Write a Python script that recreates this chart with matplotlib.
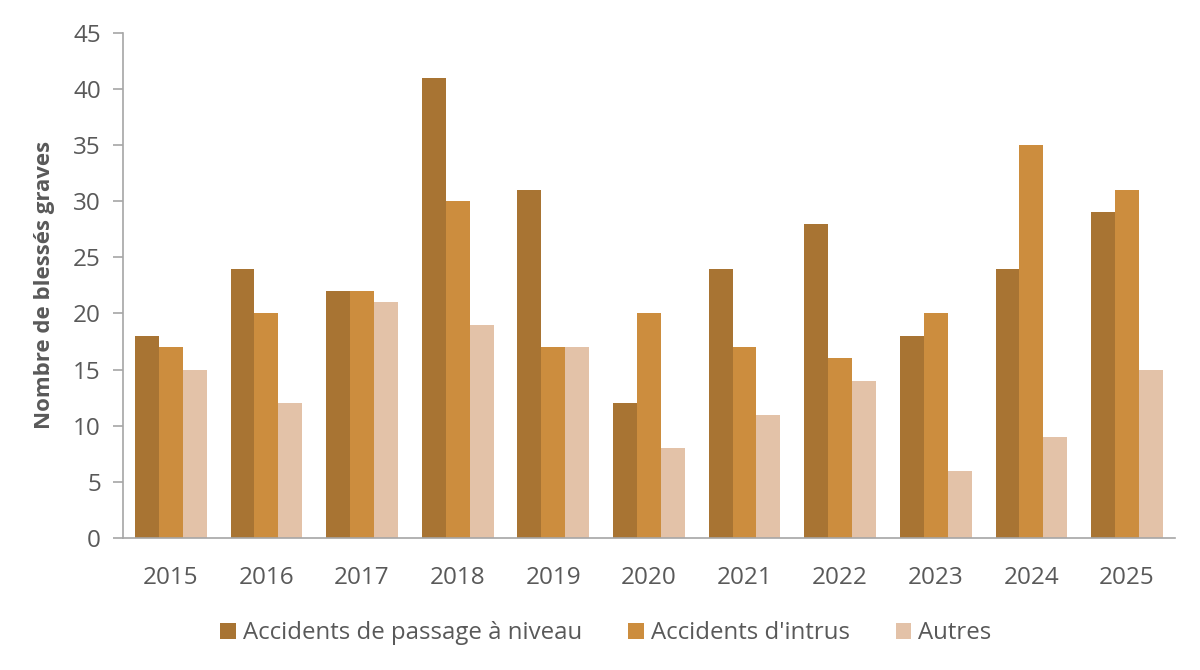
import matplotlib
matplotlib.use("Agg")
import matplotlib.pyplot as plt
import numpy as np

years = ["2015", "2016", "2017", "2018", "2019", "2020", "2021", "2022", "2023", "2024", "2025"]
passage = [18, 24, 22, 41, 31, 12, 24, 28, 18, 24, 29]
intrus = [17, 20, 22, 30, 17, 20, 17, 16, 20, 35, 31]
autres = [15, 12, 21, 19, 17, 8, 11, 14, 6, 9, 15]
series_names = ["Accidents de passage à niveau", "Accidents d'intrus", "Autres"]
colors = ["#A87433", "#CC8D3E", "#E3C2A8"]

plt.rcParams['font.family'] = ['Open Sans', 'DejaVu Sans']
text_color = "#595959"

fig = plt.figure(figsize=(12, 6.7), dpi=100)
ax = fig.add_axes([0.1025, 0.197, 0.8765, 0.754])

x = np.arange(len(years))
w = 0.25
for i, (vals, name, c) in enumerate(zip([passage, intrus, autres], series_names, colors)):
    ax.bar(x + (i - 1) * w, vals, width=w, color=c, label=name)

ax.set_xlim(-0.5, len(years) - 0.5)
ax.set_ylim(0, 45)
ax.set_yticks(range(0, 46, 5))
ax.set_xticks(x)
ax.set_xticklabels(years)

for s in ["top", "right"]:
    ax.spines[s].set_visible(False)
for s in ["left", "bottom"]:
    ax.spines[s].set_color("#A6A6A6")
    ax.spines[s].set_linewidth(1.2)
ax.tick_params(axis='y', colors="#A6A6A6", labelcolor=text_color, labelsize=17.5, length=7, width=1.2, pad=9)
ax.tick_params(axis='x', length=0, labelcolor=text_color, labelsize=17.5, pad=20)

ax.set_ylabel("Nombre de blessés graves", fontsize=16, fontweight='bold', color=text_color, labelpad=13)

leg = fig.legend(loc='center', bbox_to_anchor=(0.505, 0.055), ncol=3, frameon=False,
                 fontsize=17.3, handlelength=0.65, handleheight=0.65, handletextpad=0.3, columnspacing=1.9)
for t in leg.get_texts():
    t.set_color(text_color)

fig.savefig("out.png", dpi=100)
